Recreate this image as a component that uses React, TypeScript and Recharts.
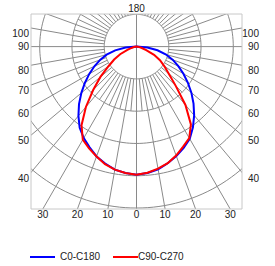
import React from "react";
import { ComposedChart, Line, XAxis, YAxis } from "recharts";

// gamma angles (0 = straight down), values in the same units as the rings
const ANGLES = [0, 5, 10, 15, 20, 25, 30, 35, 40, 45, 50, 55, 60, 65, 70, 75, 80, 85, 90];
const C0 = [397, 393, 386, 374, 361, 346, 330, 305, 278, 250, 222, 194, 168, 143, 120, 95, 66, 34, 0];
const C180 = [397, 393, 387, 375, 362, 344, 327, 307, 280, 252, 223, 195, 169, 144, 120, 96, 67, 34, 0];
const C90 = [397, 392, 384, 374, 359, 342, 327, 294, 236, 172, 130, 105, 84, 60, 32, 17, 9, 4, 0];
const C270 = [397, 393, 387, 377, 362, 348, 333, 297, 244, 190, 146, 106, 80, 56, 30, 16, 8, 4, 0];

const RINGS = [100, 200, 300, 400, 500];
const BOTTOM_ANGLES = [-30, -20, -10, 0, 10, 20, 30];
const SIDE_ANGLES = [100, 90, 80, 70, 60, 50, 40];

const X_MAX = 327;
const Y_TOP = 101;
const Y_BOTTOM = -503;

const GRID = "#8a8a8a";
const BORDER = "#c8c8c8";
const TEXT = "#222";
const FONT = "'Liberation Sans', Arial, sans-serif";

type Pt = { x: number; y: number | null };

const rad = (d: number) => (d * Math.PI) / 180;
const polar = (gamma: number, r: number): Pt => ({
  x: r * Math.sin(rad(gamma)),
  y: -r * Math.cos(rad(gamma)),
});
const GAP: Pt = { x: 0, y: null };

// left half runs 90 -> 0, right half 0 -> 90
const plane = (left: number[], right: number[]): Pt[] => [
  ...ANGLES.map((a, i) => polar(-a, left[i])).reverse(),
  ...ANGLES.map((a, i) => polar(a, right[i])),
];

const blueData = plane(C180, C0);
const redData = plane(C270, C90);

const ringData: Pt[] = RINGS.flatMap((r) => [
  ...Array.from({ length: 181 }, (_, i) => polar(i * 2, r)),
  GAP,
]);

const spokes = (from: number, to: number, keep: (a: number) => boolean): Pt[] =>
  Array.from({ length: 72 }, (_, i) => i * 5)
    .filter(keep)
    .flatMap((a) => [polar(a, from), polar(a, to), GAP]);

const minorData = spokes(100, 200, (a) => a % 10 === 5);
const majorData = spokes(100, 2000, (a) => a % 10 === 0 && a % 90 !== 0);
const axisData: Pt[] = [
  { x: 0, y: -2000 }, { x: 0, y: 2000 }, GAP,
  { x: -2000, y: 0 }, { x: 2000, y: 0 },
];

const bottomTicks = BOTTOM_ANGLES.map((a) => -Y_BOTTOM * Math.tan(rad(a)));
const sideTicks = SIDE_ANGLES.map((a) => (a === 90 ? 0 : -X_MAX / Math.tan(rad(a))));

const sideAngle = (v: number) => Math.round((Math.atan2(X_MAX, -v) * 180) / Math.PI);

const SideTick = (props: any) => {
  const { x, y, payload, side } = props;
  const deg = sideAngle(payload.value);
  const off = deg === 90 ? 0 : 5.6;
  return (
    <text
      x={side === "left" ? x - 2 : x + 17}
      y={y + off}
      textAnchor="end"
      dominantBaseline="central"
      fill={TEXT}
      fontSize={10}
      fontFamily={FONT}
    >
      {deg}
    </text>
  );
};

const tickStyle = { fill: TEXT, fontSize: 10, fontFamily: FONT };

const lineProps = {
  xAxisId: "b",
  yAxisId: "l",
  dataKey: "y",
  type: "linear" as const,
  dot: false,
  activeDot: false,
  connectNulls: false,
  isAnimationActive: false,
};

export default function App() {
  return (
    <div style={{ position: "absolute", left: 0, top: 0, width: 275, height: 266, background: "#fff" }}>
      <ComposedChart width={275} height={266} margin={{ top: 0, right: 0, bottom: 37, left: 0 }}>
        <XAxis
          xAxisId="b"
          type="number"
          dataKey="x"
          domain={[-X_MAX, X_MAX]}
          allowDataOverflow
          ticks={bottomTicks}
          interval={0}
          tickFormatter={(v: number) => String(Math.abs(Math.round((Math.atan(v / -Y_BOTTOM) * 180) / Math.PI)))}
          tickLine={false}
          tickSize={0}
          tickMargin={2}
          height={20}
          axisLine={{ stroke: BORDER }}
          tick={tickStyle}
        />
        <XAxis
          xAxisId="t"
          orientation="top"
          type="number"
          dataKey="x"
          domain={[-X_MAX, X_MAX]}
          allowDataOverflow
          ticks={[0]}
          interval={0}
          tickFormatter={() => "180"}
          tickLine={false}
          tickSize={0}
          tickMargin={2}
          height={14}
          axisLine={{ stroke: BORDER }}
          tick={tickStyle}
        />
        <YAxis
          yAxisId="l"
          type="number"
          dataKey="y"
          domain={[Y_BOTTOM, Y_TOP]}
          allowDataOverflow
          ticks={sideTicks}
          interval={0}
          tickLine={false}
          tickSize={0}
          tickMargin={0}
          width={31}
          axisLine={{ stroke: BORDER }}
          tick={(p: any) => <SideTick {...p} side="left" />}
        />
        <YAxis
          yAxisId="r"
          orientation="right"
          type="number"
          dataKey="y"
          domain={[Y_BOTTOM, Y_TOP]}
          allowDataOverflow
          ticks={sideTicks}
          interval={0}
          tickLine={false}
          tickSize={0}
          tickMargin={0}
          width={33}
          axisLine={{ stroke: BORDER }}
          tick={(p: any) => <SideTick {...p} side="right" />}
        />
        <Line {...lineProps} data={ringData} stroke={GRID} strokeWidth={1} />
        <Line {...lineProps} data={minorData} stroke={GRID} strokeWidth={1} />
        <Line {...lineProps} data={majorData} stroke={GRID} strokeWidth={1} />
        <Line {...lineProps} data={axisData} stroke={GRID} strokeWidth={1} />
        <Line {...lineProps} data={blueData} stroke="#0000ff" strokeWidth={2} />
        <Line {...lineProps} data={redData} stroke="#ff0000" strokeWidth={2} />
      </ComposedChart>
      <div style={{ position: "absolute", top: 250, left: 0, width: 275, height: 14, fontFamily: FONT, fontSize: 10, color: TEXT }}>
        <span style={{ position: "absolute", left: 30, top: 6, width: 25, height: 2, background: "#0000ff" }} />
        <span style={{ position: "absolute", left: 60, top: 1, lineHeight: "12px" }}>C0-C180</span>
        <span style={{ position: "absolute", left: 113, top: 6, width: 25, height: 2, background: "#ff0000" }} />
        <span style={{ position: "absolute", left: 138, top: 1, lineHeight: "12px" }}>C90-C270</span>
      </div>
    </div>
  );
}
